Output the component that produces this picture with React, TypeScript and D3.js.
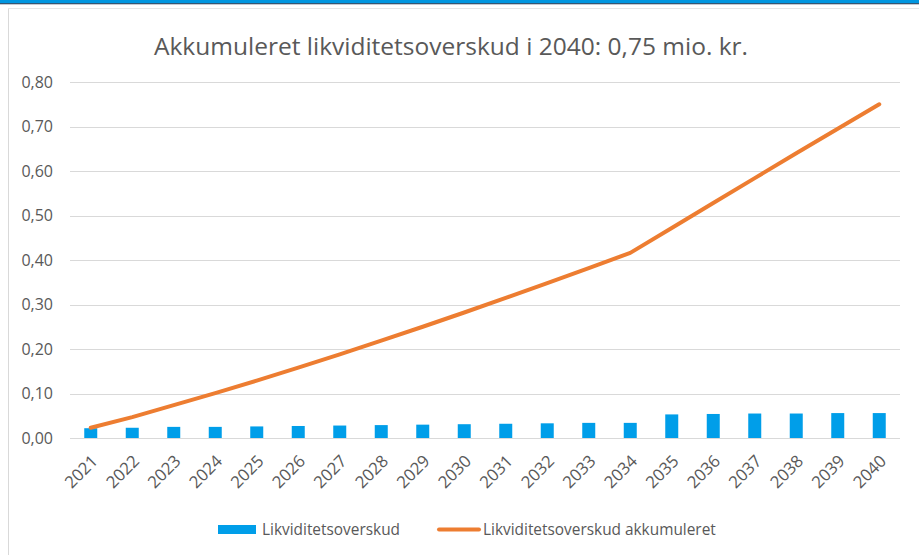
import React from "react";
import * as d3 from "d3";

const years: string[] = ["2021","2022","2023","2024","2025","2026","2027","2028","2029","2030","2031","2032","2033","2034","2035","2036","2037","2038","2039","2040"];
const annual: number[] = [0.022,0.023,0.025,0.025,0.026,0.027,0.028,0.029,0.030,0.031,0.032,0.033,0.034,0.034,0.053,0.054,0.055,0.055,0.056,0.056];
const accumulated: number[] = [0.023,0.047,0.074,0.101,0.129,0.158,0.188,0.219,0.250,0.282,0.315,0.348,0.382,0.416,0.472,0.528,0.584,0.640,0.695,0.750];
const yTicks: number[] = [0,0.1,0.2,0.3,0.4,0.5,0.6,0.7,0.8];
const title = "Akkumuleret likviditetsoverskud i 2040: 0,75 mio. kr.";
const seriesNames: string[] = ["Likviditetsoverskud","Likviditetsoverskud akkumuleret"];

const W = 919, H = 555;
const BLUE = "#009EE9";
const ORANGE = "#ED7D31";
const TEXT = "#595959";
const FONT = "'Open Sans', sans-serif";

export default function App() {
  const x = d3.scaleBand<string>().domain(years).range([70, 900]);
  const y = d3.scaleLinear().domain([0, 0.8]).range([438, 82]);
  const barW = 13;
  const line = d3.line<number>()
    .x((_, i) => (x(years[i]) as number) + x.bandwidth() / 2)
    .y(d => y(d));
  const fmt = (v: number) => v.toFixed(2).replace(".", ",");

  return (
    <div style={{ position: "absolute", left: 0, top: 0 }}>
      <svg width={W} height={H} style={{ display: "block", background: "#fff" }}>
        <rect x={0} y={0} width={W} height={3.5} fill="#0096E0" />
        <line x1={0} x2={W} y1={3.75} y2={3.75} stroke="#1b2f4a" strokeWidth={1.2} />
        <line x1={8.5} x2={8.5} y1={8} y2={H} stroke="#d9d9d9" strokeWidth={1} />
        <line x1={8} x2={W} y1={8.5} y2={8.5} stroke="#e6e6e6" strokeWidth={1} />
        <text x={451} y={55} textAnchor="middle" fontFamily={FONT} fontSize={24.5} fill={TEXT}>{title}</text>
        {yTicks.map(t => (
          <g key={t}>
            <line x1={70} x2={900} y1={Math.round(y(t)) + 0.5} y2={Math.round(y(t)) + 0.5} stroke="#d9d9d9" strokeWidth={1} />
            <text x={53} y={y(t)} dy="0.35em" textAnchor="end" fontFamily={FONT} fontSize={16} fill={TEXT}>{fmt(t)}</text>
          </g>
        ))}
        {annual.map((v, i) => (
          <rect key={years[i]} x={(x(years[i]) as number) + x.bandwidth() / 2 - barW / 2} y={y(v)} width={barW} height={y(0) - y(v)} fill={BLUE} />
        ))}
        <path d={line(accumulated) || ""} fill="none" stroke={ORANGE} strokeWidth={4} strokeLinecap="round" strokeLinejoin="round" />
        {years.map(yr => {
          const cx = (x(yr) as number) + x.bandwidth() / 2 + 4;
          const cy = 458;
          return (
            <text key={yr} x={cx} y={cy} dy="0.35em" textAnchor="end" transform={`rotate(-45 ${cx} ${cy})`} fontFamily={FONT} fontSize={16.8} fill={TEXT}>{yr}</text>
          );
        })}
        <rect x={218} y={525} width={38} height={9} fill={BLUE} />
        <text x={262} y={535} fontFamily={FONT} fontSize={15.4} fill={TEXT}>{seriesNames[0]}</text>
        <line x1={439} x2={479} y1={529.5} y2={529.5} stroke={ORANGE} strokeWidth={4} strokeLinecap="round" />
        <text x={483} y={535} fontFamily={FONT} fontSize={15.4} fill={TEXT}>{seriesNames[1]}</text>
      </svg>
    </div>
  );
}
